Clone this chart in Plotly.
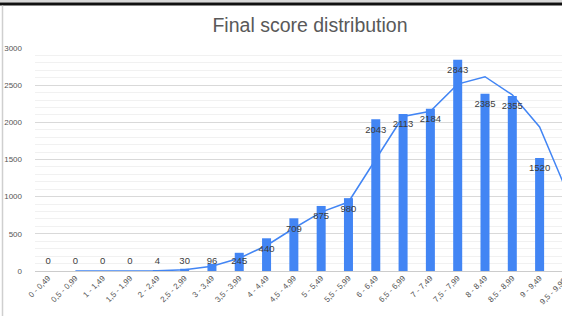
import plotly.graph_objects as go

categories = ["0 - 0,49", "0,5 - 0,99", "1 - 1,49", "1,5 - 1,99", "2 - 2,49",
              "2,5 - 2,99", "3 - 3,49", "3,5 - 3,99", "4 - 4,49", "4,5 - 4,99",
              "5 - 5,49", "5,5 - 5,99", "6 - 6,49", "6,5 - 6,99", "7 - 7,49",
              "7,5 - 7,99", "8 - 8,49", "8,5 - 8,99", "9 - 9,49", "9,5 - 9,99"]
counts = [0, 0, 0, 0, 4, 30, 96, 245, 440, 709, 875, 980, 2043, 2113, 2184,
          2843, 2385, 2355, 1520, 620]
trend = [None, 0, 0, 0, 2, 17, 63, 171, 343, 575, 792, 928, 1512, 2078, 2149,
         2514, 2614, 2370, 1938, 1070]
y_ticks = [0, 500, 1000, 1500, 2000, 2500, 3000]

BLUE = "#4285F4"
W, H = 562, 316
ML, MR, MT, MB = 35, 0, 48, 45
x_range = [-0.48, 18.82]

xi = list(range(len(categories)))

fig = go.Figure()
fig.add_trace(go.Bar(x=xi, y=counts, marker=dict(color=BLUE, line=dict(width=0)),
                     hoverinfo="skip", showlegend=False))
fig.add_trace(go.Scatter(x=xi, y=trend, mode="lines",
                         line=dict(color=BLUE, width=1.5), showlegend=False,
                         hoverinfo="skip"))
# data labels: inside end of bar, with a minimum height above the baseline
label_y = [max(v - 148, 121) for v in counts]
fig.add_trace(go.Scatter(x=xi, y=label_y, mode="text",
                         text=[str(v) for v in counts],
                         textposition="middle center",
                         textfont=dict(family="Liberation Sans, Arial", size=9.5, color="#3c3c3c"),
                         cliponaxis=False, showlegend=False, hoverinfo="skip"))

plot_w = W - ML - MR
plot_h = H - MT - MB
span = x_range[1] - x_range[0]

def px_to_paper_x(px):
    return (px - ML) / plot_w

def px_to_paper_y(py):
    return (H - MB - py) / plot_h

shapes = [
    dict(type="rect", xref="paper", yref="paper",
         x0=px_to_paper_x(0), x1=px_to_paper_x(W), y0=px_to_paper_y(2.5), y1=px_to_paper_y(0),
         fillcolor="#d9d9d9", line=dict(width=0), layer="above"),
    dict(type="rect", xref="paper", yref="paper",
         x0=px_to_paper_x(0), x1=px_to_paper_x(W), y0=px_to_paper_y(5.5), y1=px_to_paper_y(2.5),
         fillcolor="#111111", line=dict(width=0), layer="above"),
    dict(type="line", xref="paper", yref="paper",
         x0=px_to_paper_x(2.5), x1=px_to_paper_x(2.5), y0=px_to_paper_y(H), y1=px_to_paper_y(5.5),
         line=dict(color="#cfcfcf", width=1.5), layer="above"),
]

# the last category's tick label falls at the window edge; draw it as text
last_idx = len(categories) - 1
annotations = [
    dict(text=categories[last_idx], xref="paper", yref="paper",
         x=(last_idx - x_range[0]) / span, y=0, xshift=-14, yshift=-20,
         xanchor="center", yanchor="middle",
         textangle=-45, showarrow=False,
         font=dict(family="Liberation Sans, Arial", size=8, color="#555555")),
]

fig.update_layout(
    width=W, height=H,
    margin=dict(l=ML, r=MR, t=MT, b=MB, pad=0, autoexpand=False),
    paper_bgcolor="white", plot_bgcolor="white",
    title=dict(text="Final score distribution", x=310 / W, xanchor="center",
               y=1 - 25 / H, yanchor="middle", automargin=False,
               font=dict(family="Liberation Sans, Arial", size=19.5, color="#595959")),
    bargap=0.67,
    shapes=shapes,
    annotations=annotations,
    xaxis=dict(range=x_range, tickmode="array", tickvals=xi[:-1], ticktext=categories[:-1],
               tickangle=-45, showgrid=False, zeroline=False, showline=False, ticks="",
               automargin=False,
               tickfont=dict(family="Liberation Sans, Arial", size=8, color="#555555")),
    yaxis=dict(range=[0, 3000], tickvals=y_ticks, ticks="", showline=False,
               gridcolor="#d9d9d9", gridwidth=1, zeroline=True, zerolinecolor="#cccccc",
               zerolinewidth=1, ticklabelstandoff=12, automargin=False,
               tickfont=dict(family="Liberation Sans, Arial", size=8, color="#555555"),
               minor=dict(dtick=100, showgrid=True, gridcolor="#f1f1f1", gridwidth=1)),
    font=dict(family="Liberation Sans, Arial"),
)

fig.write_html(
    "out.html",
    config={"displayModeBar": False},
    post_script="document.body.style.margin='0';document.body.style.overflow='hidden';"
                "document.documentElement.style.overflow='hidden';",
)
